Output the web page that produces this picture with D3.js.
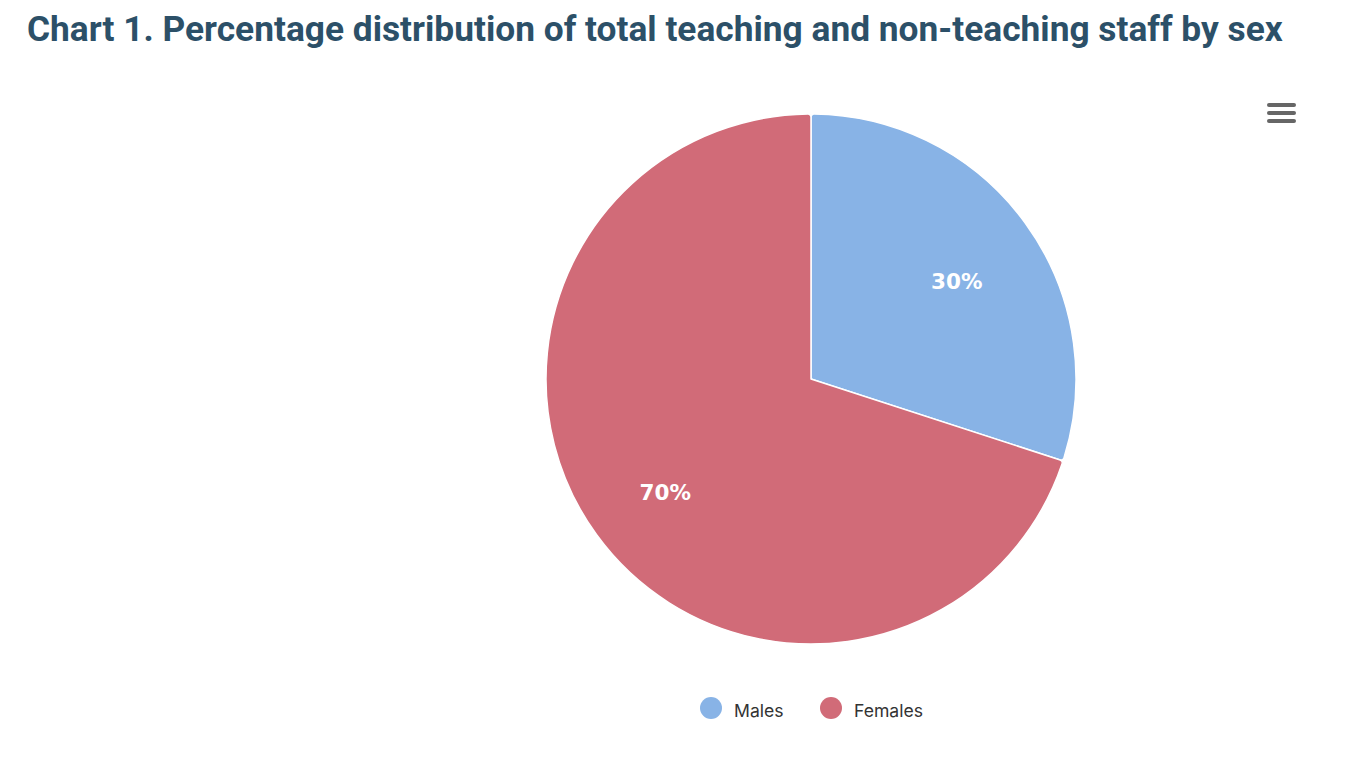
<!DOCTYPE html>
<html>
<head>
<meta charset="utf-8">
<script src="https://cdn.jsdelivr.net/npm/d3@7"></script>
<style>
  body { margin: 0; background: #fff; }
  svg { display: block; }
</style>
</head>
<body>
<svg id="chart" width="1360" height="762"></svg>
<script>
// chart data
const categories = ["Males", "Females"];
const shares = [30, 70];
const colors = ["#88b3e6", "#d16b78"];

const svg = d3.select("#chart");
const cx = 811, cy = 379, radius = 265;

// title
svg.append("text")
    .attr("x", 27).attr("y", 41)
    .attr("font-family", "Roboto")
    .attr("font-weight", 700)
    .attr("font-size", 35.3)
    .attr("fill", "#2c5068")
    .text("Chart 1. Percentage distribution of total teaching and non-teaching staff by sex");

// pie
const pie = d3.pie().sort(null).value(d => d.value);
const arcs = pie(categories.map((c, i) => ({ name: c, value: shares[i], color: colors[i] })));
const arc = d3.arc().innerRadius(0).outerRadius(radius).cornerRadius(3);
const labelArc = d3.arc().innerRadius(radius * 0.68).outerRadius(radius * 0.68);

const g = svg.append("g").attr("transform", `translate(${cx},${cy})`);

g.selectAll("path.slice")
    .data(arcs)
    .join("path")
    .attr("class", "slice")
    .attr("d", arc)
    .attr("fill", d => d.data.color)
    .attr("stroke", "#fff")
    .attr("stroke-width", 1.5)
    .attr("stroke-linejoin", "round");

g.selectAll("text.lbl")
    .data(arcs)
    .join("text")
    .attr("class", "lbl")
    .attr("transform", d => {
        const [x, y] = labelArc.centroid(d);
        return `translate(${x},${y + 8})`;
    })
    .attr("text-anchor", "middle")
    .attr("dy", "0.35em")
    .attr("font-family", "DejaVu Sans")
    .attr("font-weight", 700)
    .attr("font-size", 21.5)
    .attr("fill", "#fff")
    .text(d => Math.round(d.data.value) + "%");

// legend
const legendX = [711, 831];
const legend = svg.append("g").selectAll("g")
    .data(categories)
    .join("g")
    .attr("transform", (d, i) => `translate(${legendX[i]},708)`);

legend.append("circle")
    .attr("r", 11)
    .attr("fill", (d, i) => colors[i]);

legend.append("text")
    .attr("x", 23)
    .attr("y", 3)
    .attr("dy", "0.35em")
    .attr("font-family", "Inter")
    .attr("font-size", 17.6)
    .attr("fill", "#333")
    .text(d => d);

// menu icon
const menu = svg.append("g").attr("transform", "translate(1267,104)");
[0, 8, 16].forEach(y => {
    menu.append("line")
        .attr("x1", 2).attr("x2", 27)
        .attr("y1", y + 1).attr("y2", y + 1)
        .attr("stroke", "#666")
        .attr("stroke-width", 4)
        .attr("stroke-linecap", "round");
});
</script>
</body>
</html>
